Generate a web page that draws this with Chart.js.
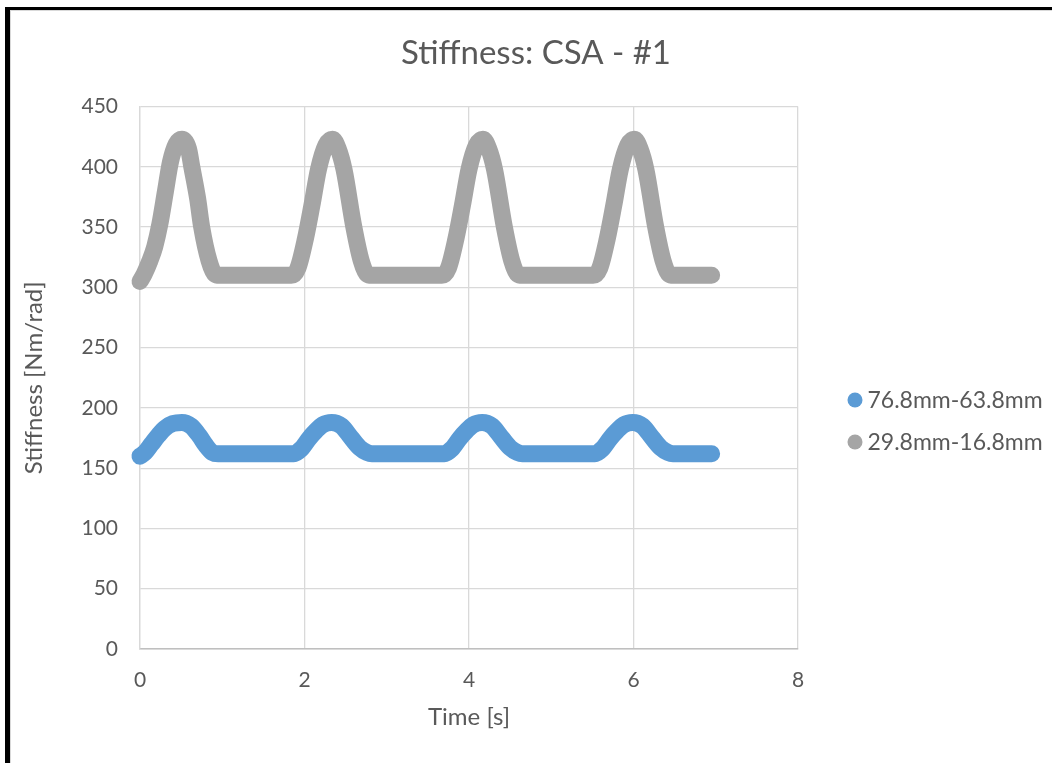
<!DOCTYPE html>
<html>
<head>
<meta charset="utf-8">
<title>Stiffness: CSA - #1</title>
<script src="https://cdn.jsdelivr.net/npm/chart.js@4.4.0/dist/chart.umd.min.js"></script>
<style>
  html, body { margin: 0; padding: 0; background: #fff; }
  #wrap { position: relative; width: 1052px; height: 763px; overflow: hidden; }
  #frame {
    position: absolute; left: 5px; top: 7px; right: -20px; bottom: -20px;
    border-left: 5px solid #000; border-top: 3px solid #000;
    box-shadow: inset 1px 1px 0 #d9d9d9;
    pointer-events: none;
  }
  canvas { position: absolute; left: 0; top: 0; }
</style>
</head>
<body>
<div id="wrap">
  <canvas id="stiffnessChart" width="1052" height="763"></canvas>
  <div id="frame"></div>
</div>
<script>
// Series: 76.8mm-63.8mm (time [s], stiffness [Nm/rad])
const timeBlue = [0.00, 0.06, 0.14, 0.22, 0.30, 0.40, 0.51, 0.62, 0.72, 0.80, 0.88, 0.95,
                  1.87, 1.96, 2.06, 2.14, 2.22, 2.33, 2.45, 2.57, 2.67, 2.76, 2.82,
                  3.70, 3.79, 3.89, 3.97, 4.05, 4.16, 4.28, 4.40, 4.50, 4.59, 4.65,
                  5.53, 5.62, 5.72, 5.80, 5.88, 5.99, 6.11, 6.23, 6.33, 6.42, 6.48, 6.95];
const stiffBlue = [160, 163, 170, 177, 183, 187, 188, 185, 177, 169, 163, 162,
                   162, 166, 175, 181, 186, 188, 185, 175, 167, 163, 162,
                   162, 166, 175, 181, 186, 188, 185, 175, 167, 163, 162,
                   162, 166, 175, 181, 186, 188, 185, 175, 167, 163, 162, 162];

// Series: 29.8mm-16.8mm
const timeGray = [0.00, 0.05, 0.12, 0.18, 0.24, 0.31, 0.37, 0.44, 0.51, 0.59, 0.63, 0.70, 0.75, 0.84, 0.91, 0.97,
                  1.84, 1.92, 2.01, 2.09, 2.17, 2.26, 2.34, 2.41, 2.48, 2.60, 2.69, 2.76, 2.82,
                  3.67, 3.75, 3.84, 3.92, 4.00, 4.09, 4.17, 4.24, 4.31, 4.43, 4.52, 4.59, 4.65,
                  5.51, 5.59, 5.68, 5.76, 5.84, 5.93, 6.01, 6.08, 6.15, 6.27, 6.36, 6.43, 6.49, 6.95];
const stiffGray = [305, 311, 322, 334, 352, 380, 404, 419, 423, 415, 400, 374, 350, 322, 311, 310,
                   310, 316, 340, 368, 398, 418, 423, 415, 398, 350, 322, 311, 310,
                   310, 316, 340, 368, 398, 418, 423, 415, 398, 350, 322, 311, 310,
                   310, 316, 340, 368, 398, 418, 423, 415, 398, 350, 322, 311, 310, 310];

const seriesLabels = ['76.8mm-63.8mm', '29.8mm-16.8mm'];
const seriesColors = ['#5B9BD5', '#A5A5A5'];

const chartTitle = 'Stiffness: CSA - #1';
const xAxisTitle = 'Time [s]';
const yAxisTitle = 'Stiffness [Nm/rad]';
const xRange = [0, 8, 2];     // min, max, step
const yRange = [0, 450, 50];

const textColor = '#595959';
const fontFamily = 'Lato, "Open Sans", sans-serif';

function toPoints(xs, ys) {
  return xs.map((x, i) => ({ x: x, y: ys[i] }));
}

// legend drawn to the right of the plot, one row per dataset
const sideLegend = {
  id: 'sideLegend',
  afterDraw(chart, args, opts) {
    const ctx = chart.ctx;
    ctx.save();
    ctx.font = opts.fontSize + 'px ' + fontFamily;
    ctx.textBaseline = 'middle';
    ctx.textAlign = 'left';
    chart.data.datasets.forEach((ds, i) => {
      const y = opts.top + i * opts.rowGap;
      ctx.fillStyle = ds.borderColor;
      ctx.beginPath();
      ctx.arc(opts.left, y, opts.radius, 0, Math.PI * 2);
      ctx.fill();
      ctx.fillStyle = textColor;
      ctx.fillText(ds.label, opts.left + opts.radius + 5, y + 1);
    });
    ctx.restore();
  }
};

document.addEventListener('DOMContentLoaded', function() {
  const datasets = [
    { data: toPoints(timeBlue, stiffBlue) },
    { data: toPoints(timeGray, stiffGray) }
  ].map((ds, i) => Object.assign(ds, {
    label: seriesLabels[i],
    borderColor: seriesColors[i],
    backgroundColor: seriesColors[i],
    showLine: true,
    borderWidth: 17,
    borderCapStyle: 'round',
    borderJoinStyle: 'round',
    cubicInterpolationMode: 'monotone',
    pointRadius: 0,
    clip: false
  }));

  const tickFont = { family: fontFamily, size: 21 };
  const titleFont = { family: fontFamily, size: 24 };

  const ctx = document.getElementById('stiffnessChart').getContext('2d');
  new Chart(ctx, {
    type: 'scatter',
    data: { datasets: datasets },
    plugins: [sideLegend],
    options: {
      responsive: false,
      animation: false,
      events: [],
      layout: {
        padding: { top: 10, left: 20, right: 0, bottom: 31 }
      },
      plugins: {
        title: {
          display: true,
          text: chartTitle,
          color: textColor,
          font: { family: fontFamily, size: 33, weight: 'normal' },
          padding: { top: 24, bottom: 33 }
        },
        legend: { display: false },
        tooltip: { enabled: false },
        sideLegend: { left: 855, top: 400, rowGap: 42, radius: 7.5, fontSize: 23 }
      },
      scales: {
        x: {
          type: 'linear',
          min: xRange[0],
          max: xRange[1],
          ticks: { stepSize: xRange[2], padding: 19, color: textColor, font: tickFont },
          grid: { color: '#D9D9D9', lineWidth: 1.3, drawTicks: false },
          border: { color: '#BFBFBF', width: 1.6 },
          title: { display: true, text: xAxisTitle, color: textColor, font: titleFont, padding: 0 },
          afterFit: scale => { scale.height = 83; }
        },
        y: {
          min: yRange[0],
          max: yRange[1],
          ticks: { stepSize: yRange[2], padding: 22, color: textColor, font: tickFont },
          grid: { color: '#D9D9D9', lineWidth: 1.3, drawTicks: false },
          border: { color: '#D9D9D9', width: 1.3 },
          title: { display: true, text: yAxisTitle, color: textColor, font: titleFont, padding: 0 },
          afterFit: scale => { scale.width = 120; }
        },
        // empty axis reserving room for the legend on the right
        legendSpace: {
          type: 'linear',
          position: 'right',
          display: true,
          ticks: { display: false },
          grid: { display: false, drawTicks: false },
          border: { display: false },
          afterFit: scale => { scale.width = 254; }
        }
      }
    }
  });
});
</script>
</body>
</html>
